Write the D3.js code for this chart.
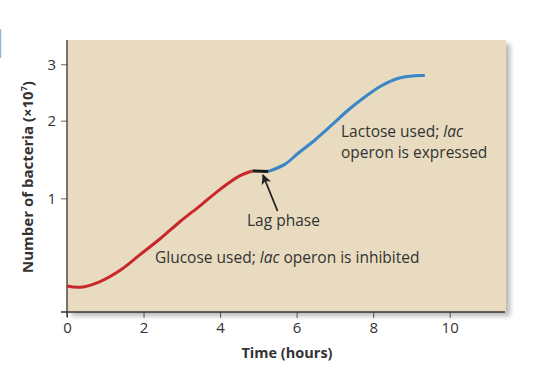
<!DOCTYPE html>
<html>
<head>
<meta charset="utf-8">
<script src="https://cdn.jsdelivr.net/npm/d3@7"></script>
<style>
  body { margin: 0; background: #fff; }
  text { font-family: "Open Sans", sans-serif; fill: #333; }
</style>
</head>
<body>
<div id="chart"></div>
<script>
// data (hours, bacteria x10^7)
const glucoseX = [0, 0.35, 0.85, 1.4, 1.9, 2.45, 2.95, 3.5, 4.0, 4.5, 4.85];
const glucoseY = [0.326, 0.32, 0.349, 0.417, 0.515, 0.638, 0.776, 0.932, 1.095, 1.245, 1.305];
const lagX = [4.85, 5.26];
const lagY = [1.305, 1.3];
const lactoseX = [5.26, 5.7, 6.04, 6.48, 6.92, 7.35, 7.79, 8.22, 8.66, 9.09, 9.35];
const lactoseY = [1.3, 1.39, 1.53, 1.712, 1.934, 2.171, 2.396, 2.591, 2.729, 2.778, 2.78];
const xTicks = [0, 2, 4, 6, 8, 10];
const yTicks = [1, 2, 3];

const width = 540, height = 384;
const padL = 67, padR = 506, padT = 40, padB = 312;

const svg = d3.select("#chart").append("svg")
    .attr("width", width)
    .attr("height", height);

// shadow for the panel
const defs = svg.append("defs");
const f = defs.append("filter").attr("id", "shadow")
    .attr("x", "-5%").attr("y", "-5%").attr("width", "115%").attr("height", "115%");
f.append("feDropShadow")
    .attr("dx", 4).attr("dy", 4).attr("stdDeviation", 2.5)
    .attr("flood-color", "#000").attr("flood-opacity", 0.28);

// little blue mark at the left edge
svg.append("rect").attr("x", 0).attr("y", 29).attr("width", 1.2).attr("height", 29).attr("fill", "#8dbbe0");

const x = d3.scaleLinear().domain([0, (padR - padL) / 38.27]).range([padL, padR]);
const y = d3.scalePow().exponent(0.4).domain([0.2064, 3.506]).range([padB, padT]);

svg.append("rect")
    .attr("x", padL).attr("y", padT)
    .attr("width", padR - padL).attr("height", padB - padT)
    .attr("fill", "#e8dbbf")
    .attr("filter", "url(#shadow)");

// axes
const xAxis = svg.append("g")
    .attr("transform", `translate(0,${padB})`)
    .call(d3.axisBottom(x).tickValues(xTicks).tickSize(6).tickPadding(4).tickSizeOuter(0));
xAxis.select(".domain").remove();
xAxis.selectAll(".tick line").attr("stroke", "#555");
xAxis.selectAll(".tick text").style("font-size", "15px").attr("fill", "#444");

const yAxis = svg.append("g")
    .attr("transform", `translate(${padL},0)`)
    .call(d3.axisLeft(y).tickValues(yTicks).tickFormat(d3.format("d")).tickSize(6).tickPadding(5).tickSizeOuter(0));
yAxis.select(".domain").remove();
yAxis.selectAll(".tick line").attr("stroke", "#666");
yAxis.selectAll(".tick text").style("font-size", "15px").attr("fill", "#444");

svg.append("line")
    .attr("x1", padL - 6).attr("x2", padR - 1)
    .attr("y1", padB).attr("y2", padB)
    .attr("stroke", "#333").attr("stroke-width", 1.3);
svg.append("line")
    .attr("x1", padL).attr("x2", padL)
    .attr("y1", padT).attr("y2", padB + 5)
    .attr("stroke", "#333").attr("stroke-width", 1.3);

// curves
const line = d3.line()
    .x(d => x(d[0]))
    .y(d => y(d[1]))
    .curve(d3.curveCatmullRom.alpha(0.5));

function draw(xs, ys, color) {
    svg.append("path")
        .datum(xs.map((v, i) => [v, ys[i]]))
        .attr("d", line)
        .attr("fill", "none")
        .attr("stroke", color)
        .attr("stroke-width", 3)
        .attr("stroke-linecap", "butt");
}
draw(glucoseX, glucoseY, "#c8282c");
draw(lactoseX, lactoseY, "#3a86c8");
draw(lagX, lagY, "#1a1a1a");

// arrow to lag phase
defs.append("marker").attr("id", "head")
    .attr("viewBox", "0 0 10 10").attr("refX", 9).attr("refY", 5)
    .attr("markerWidth", 10).attr("markerHeight", 10)
    .attr("markerUnits", "userSpaceOnUse")
    .attr("orient", "auto")
  .append("path").attr("d", "M0,0 L10,5 L0,10 L2.5,5 Z").attr("fill", "#222");
svg.append("line")
    .attr("x1", 277.5).attr("y1", 211)
    .attr("x2", 263).attr("y2", 175)
    .attr("stroke", "#222").attr("stroke-width", 1.8)
    .attr("marker-end", "url(#head)");

// labels
const lbl = (tx, ty, parts, anchor) => {
    const t = svg.append("text").attr("x", tx).attr("y", ty)
        .style("font-size", "15.5px").attr("text-anchor", anchor || "start");
    parts.forEach(p => t.append("tspan").text(p[0]).style("font-style", p[1] ? "italic" : "normal"));
};
lbl(341, 137, [["Lactose used; ", false], ["lac", true]]);
lbl(341, 158, [["operon is expressed", false]]);
lbl(247, 226, [["Lag phase", false]]);
lbl(155, 263, [["Glucose used; ", false], ["lac", true], [" operon is inhibited", false]]);

svg.append("text")
    .attr("x", 287).attr("y", 358)
    .attr("text-anchor", "middle")
    .style("font-size", "14.5px").style("font-weight", "bold")
    .text("Time (hours)");

const yl = svg.append("text")
    .attr("transform", "translate(33,177) rotate(-90)")
    .attr("text-anchor", "middle")
    .style("font-size", "15px").style("font-weight", "bold");
yl.append("tspan").text("Number of bacteria (×10");
yl.append("tspan").text("7").style("font-size", "9px").attr("dy", -6);
yl.append("tspan").text(")").attr("dy", 6);
</script>
</body>
</html>
